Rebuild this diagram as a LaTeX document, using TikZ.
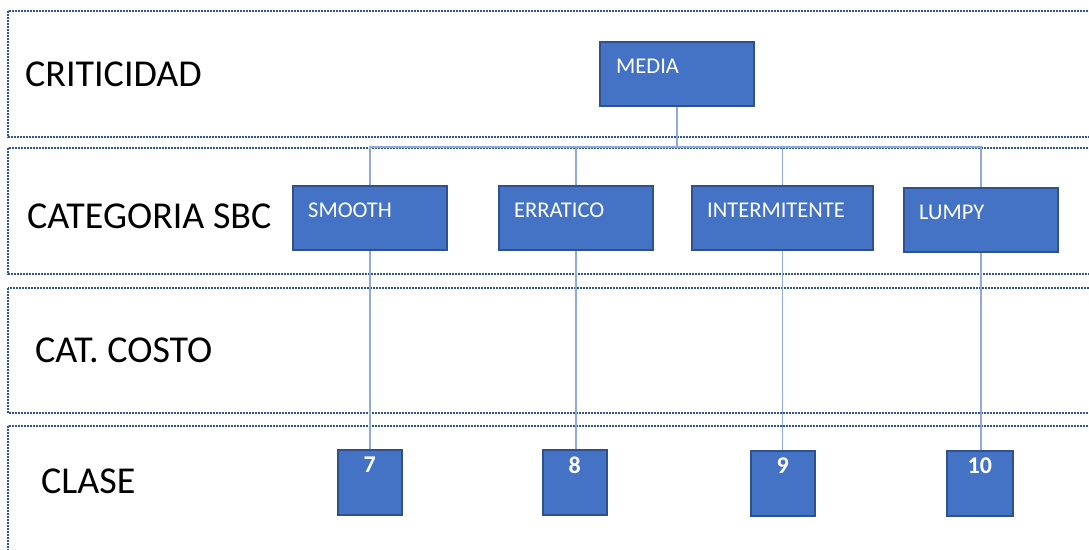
\documentclass[tikz,border=0pt]{standalone}
\usepackage{fontspec}
\setmainfont{Carlito}
\definecolor{boxfill}{HTML}{4472C4}
\definecolor{boxedge}{HTML}{2F528F}
\definecolor{bandedge}{HTML}{2F5597}
\definecolor{linkcol}{HTML}{8FAADC}
\tikzset{
  band/.style={draw=bandedge, line width=1.7pt, dash pattern=on 1.7pt off 1.3pt},
  bandlabel/.style={anchor=west, inner sep=0pt, font=\fontsize{38}{42}\selectfont, text=black},
  catbox/.style={draw=boxedge, fill=boxfill, line width=1.5pt, anchor=north west, inner sep=0pt,
    minimum height=64pt},
  numbox/.style={catbox, minimum width=64pt, minimum height=65pt},
  boxtext/.style={anchor=west, inner sep=0pt, text=white, font=\fontsize{22.5}{24}\selectfont},
  numtext/.style={anchor=center, inner sep=0pt, text=white, font=\bfseries\fontsize{24}{26}\selectfont},
  link/.style={draw=linkcol, line width=1.5pt},
}
\begin{document}
\begin{tikzpicture}[x=1pt,y=-1pt]
\useasboundingbox (0,0) rectangle (1089,549);
\clip (0,0) rectangle (1089,549);

% dotted row bands
\draw[band] (8,11)  rectangle (1100,137);
\draw[band] (8,148) rectangle (1100,274);
\draw[band] (8,288) rectangle (1100,413);
\draw[band] (8,426) rectangle (1100,570);

% row titles
\node[bandlabel] (lcrit)  at (25,74)  {CRITICIDAD};
\node[bandlabel] (lsbc)   at (27,216) {CATEGORIA SBC};
\node[bandlabel] (lcosto) at (35,350) {CAT. COSTO};
\node[bandlabel] (lclase) at (41,481) {CLASE};

% criticality box
\node[catbox, minimum width=154pt] (media) at (599,41) {};
\node[boxtext] (mediat) at ([shift={(17,25)}]media.north west) {MEDIA};

% SBC category boxes
\node[catbox, minimum width=154pt] (smooth)   at (292,185) {};
\node[catbox, minimum width=154pt] (erratico) at (498,185) {};
\node[catbox, minimum width=181pt] (interm)   at (691,185) {};
\node[catbox, minimum width=154pt] (lumpy)    at (903,187) {};
\node[boxtext] (smootht)   at ([shift={(16,25)}]smooth.north west)   {SMOOTH};
\node[boxtext] (erraticot) at ([shift={(16,25)}]erratico.north west) {ERRATICO};
\node[boxtext] (intermt)   at ([shift={(16,25)}]interm.north west)   {INTERMITENTE};
\node[boxtext] (lumpyt)    at ([shift={(16,25)}]lumpy.north west)    {LUMPY};

% class boxes
\node[numbox] (n7)  at (337,449) {};
\node[numbox] (n8)  at (542,449) {};
\node[numbox] (n9)  at (750,450) {};
\node[numbox, minimum width=66pt] (n10) at (946,450) {};
\node[numtext] (n7t)  at ([shift={(0,16)}]n7.north)  {7};
\node[numtext] (n8t)  at ([shift={(0,16)}]n8.north)  {8};
\node[numtext] (n9t)  at ([shift={(0,16)}]n9.north)  {9};
\node[numtext] (n10t) at ([shift={(0,16)}]n10.north) {10};

% tree connectors
\coordinate (bus) at (678,147);
\path[link] (media.south) -- (media.south |- bus);
\path[link] (smooth.north) -- (smooth.north |- bus) -- (lumpy.north |- bus) -- (lumpy.north);
\path[link] (erratico.north) -- (erratico.north |- bus);
\path[link] (interm.north) -- (interm.north |- bus);
\path[link] (smooth.south) -- (n7.north);
\path[link] (erratico.south) -- (erratico.south |- n8.north);
\path[link] (interm.south) -- (interm.south |- n9.north);
\path[link] (lumpy.south) -- (lumpy.south |- n10.north);
\end{tikzpicture}
\end{document}
